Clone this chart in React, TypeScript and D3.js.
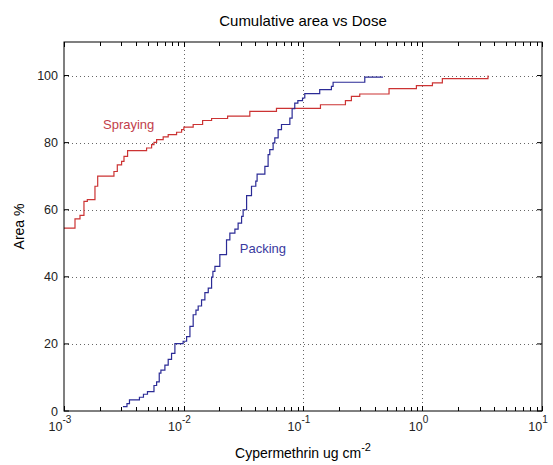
import * as d3 from 'd3'
import { useEffect, useRef } from 'react'

// Spraying: cumulative area (%) step curve vs dose (ug cm^-2)
const sprayDose = [0.001, 0.001236, 0.001361, 0.001469, 0.001567, 0.001816, 0.001914, 0.002618, 0.002793, 0.003034,
  0.003177, 0.003404, 0.004909, 0.005408, 0.005662, 0.005957, 0.006761, 0.007447, 0.00875, 0.009638,
  0.01007, 0.01205, 0.01445, 0.01718, 0.02339, 0.03589, 0.05998, 0.14, 0.2265, 0.2541,
  0.2985, 0.5248, 0.8892, 1.211, 1.466, 3.532]
const sprayArea = [54.5, 57.3, 58.3, 62.5, 63, 67, 70, 71.4, 73.4, 74.4,
  75.9, 77.6, 78.4, 79.4, 80.1, 80.9, 81.7, 82.4, 83.1, 83.9,
  84.6, 85.4, 86.6, 87.2, 87.9, 89.3, 90.2, 91.3, 92.5, 93.8,
  94.5, 96.1, 97, 97.8, 99.1, 100]

// Packing
const packDose = [0.003112, 0.003365, 0.003531, 0.004279, 0.004623, 0.004995, 0.005662, 0.005957, 0.006266, 0.006471,
  0.006988, 0.007447, 0.007943, 0.008472, 0.009931, 0.01062, 0.01132, 0.01205, 0.01271, 0.01327,
  0.01416, 0.0151, 0.01611, 0.01718, 0.01762, 0.01832, 0.02014, 0.02291, 0.02443, 0.02692,
  0.02864, 0.03062, 0.03155, 0.03373, 0.03707, 0.04027, 0.0413, 0.04797, 0.05105, 0.05272,
  0.05623, 0.05808, 0.06194, 0.06607, 0.07762, 0.0811, 0.08531, 0.09057, 0.09908, 0.1035,
  0.138, 0.1729, 0.1786, 0.3289, 0.4677]
const packArea = [1.3, 2.2, 3.3, 4.1, 5.0, 5.8, 7.6, 8.7, 11.3, 12.2,
  13.7, 15.4, 17.2, 20.1, 20.8, 22.2, 25.2, 28.7, 30.1, 31.3,
  33.1, 35.3, 36.6, 39.9, 41.6, 43.1, 46.6, 51, 53, 54.2,
  56, 58, 60, 64.2, 67, 68.5, 70.6, 72.9, 76.4, 77.9,
  79.9, 81.4, 83.9, 85.4, 87.3, 90.1, 91.8, 92.5, 93.3, 94.6,
  95.8, 96.8, 98, 99.5, 99.5]

const labelNames = ['Spraying', 'Packing']
const labelDose = [0.00212, 0.0296]
const labelArea = [84.2, 47.2]

const xExponents = [-3, -2, -1, 0, 1]
const yTicks = [0, 20, 40, 60, 80, 100]

const W = 553
const H = 465
const margin = { left: 64, right: 11, top: 42, bottom: 54 }
const red = '#cc3333'
const blue = '#2b2b96'

export default function App() {
  const svgRef = useRef(null) as any

  useEffect(() => {
    const svg = d3.select(svgRef.current)
    svg.selectAll('*').remove()

    const x = d3.scaleLog().domain([1e-3, 10]).range([margin.left, W - margin.right])
    const y = d3.scaleLinear().domain([0, 110]).range([H - margin.bottom, margin.top])
    const x0 = margin.left, x1 = W - margin.right
    const y0 = H - margin.bottom, y1 = margin.top
    const font = 'Liberation Sans, Arial, sans-serif'

    svg.append('rect').attr('x', 0).attr('y', 0).attr('width', W).attr('height', H).attr('fill', '#fff')

    // dotted grid at the major ticks
    const grid = svg.append('g').attr('stroke', '#666').attr('stroke-width', 1).attr('stroke-dasharray', '1,3')
    xExponents.slice(1, -1).forEach(e => {
      const px = Math.round(x(10 ** e)) + 0.5
      grid.append('line').attr('x1', px).attr('x2', px).attr('y1', y0).attr('y2', y1)
    })
    yTicks.slice(1).forEach(v => {
      const py = Math.round(y(v)) + 0.5
      grid.append('line').attr('x1', x0).attr('x2', x1).attr('y1', py).attr('y2', py)
    })

    // step curves
    const stair = d3.line().curve(d3.curveStepAfter)
    const sprayPts = sprayDose.map((d, i) => [x(d), y(sprayArea[i])] as [number, number])
    const packPts = packDose.map((d, i) => [x(d), y(packArea[i])] as [number, number])
    svg.append('path').attr('d', stair(sprayPts) as string)
      .attr('fill', 'none').attr('stroke', red).attr('stroke-width', 1.2)
    svg.append('path').attr('d', stair(packPts) as string)
      .attr('fill', 'none').attr('stroke', blue).attr('stroke-width', 1.2)

    // box + ticks
    const ax = svg.append('g').attr('stroke', '#000').attr('stroke-width', 1)
    ax.append('rect').attr('x', x0).attr('y', y1).attr('width', x1 - x0).attr('height', y0 - y1).attr('fill', 'none')
    x.ticks().forEach(t => {
      const major = Math.abs(Math.log10(t) - Math.round(Math.log10(t))) < 1e-9
      const len = major ? 5 : 4
      const px = Math.round(x(t)) + 0.5
      ax.append('line').attr('x1', px).attr('x2', px).attr('y1', y0).attr('y2', y0 - len)
      ax.append('line').attr('x1', px).attr('x2', px).attr('y1', y1).attr('y2', y1 + len)
    })
    yTicks.forEach(v => {
      ax.append('line').attr('x1', x0).attr('x2', x0 + 5).attr('y1', y(v)).attr('y2', y(v))
      ax.append('line').attr('x1', x1).attr('x2', x1 - 5).attr('y1', y(v)).attr('y2', y(v))
    })

    // tick labels
    yTicks.forEach(v => {
      svg.append('text').attr('x', x0 - 6).attr('y', y(v) + 4.5).attr('text-anchor', 'end')
        .attr('font-family', font).attr('font-size', 12.5).attr('fill', '#222').text(String(v))
    })
    xExponents.forEach(e => {
      const t = svg.append('text').attr('x', x(10 ** e) - 4).attr('y', y0 + 20).attr('text-anchor', 'middle')
        .attr('font-family', font).attr('font-size', 12.5).attr('fill', '#222')
      t.append('tspan').text('10')
      t.append('tspan').attr('dy', -8).attr('font-size', 10).text(String(e))
    })

    // curve labels
    labelNames.forEach((n, i) => {
      svg.append('text').attr('x', x(labelDose[i])).attr('y', y(labelArea[i]))
        .attr('font-family', font).attr('font-size', 13).attr('fill', i === 0 ? '#c2404a' : '#3a3aa0').text(n)
    })

    // titles
    svg.append('text').attr('x', (x0 + x1) / 2).attr('y', 26).attr('text-anchor', 'middle')
      .attr('font-family', font).attr('font-size', 15).attr('fill', '#000').text('Cumulative area vs Dose')
    const xl = svg.append('text').attr('x', (x0 + x1) / 2).attr('y', 458).attr('text-anchor', 'middle')
      .attr('font-family', font).attr('font-size', 14).attr('fill', '#000')
    xl.append('tspan').text('Cypermethrin ug cm')
    xl.append('tspan').attr('dy', -7).attr('font-size', 11).text('-2')
    svg.append('text').attr('transform', `translate(24,${(y0 + y1) / 2}) rotate(-90)`).attr('text-anchor', 'middle')
      .attr('font-family', font).attr('font-size', 14).attr('fill', '#000').text('Area %')
  }, [])

  return (
    <svg ref={svgRef} width={W} height={H} style={{ position: 'absolute', left: 0, top: 0, display: 'block' }} />
  )
}
